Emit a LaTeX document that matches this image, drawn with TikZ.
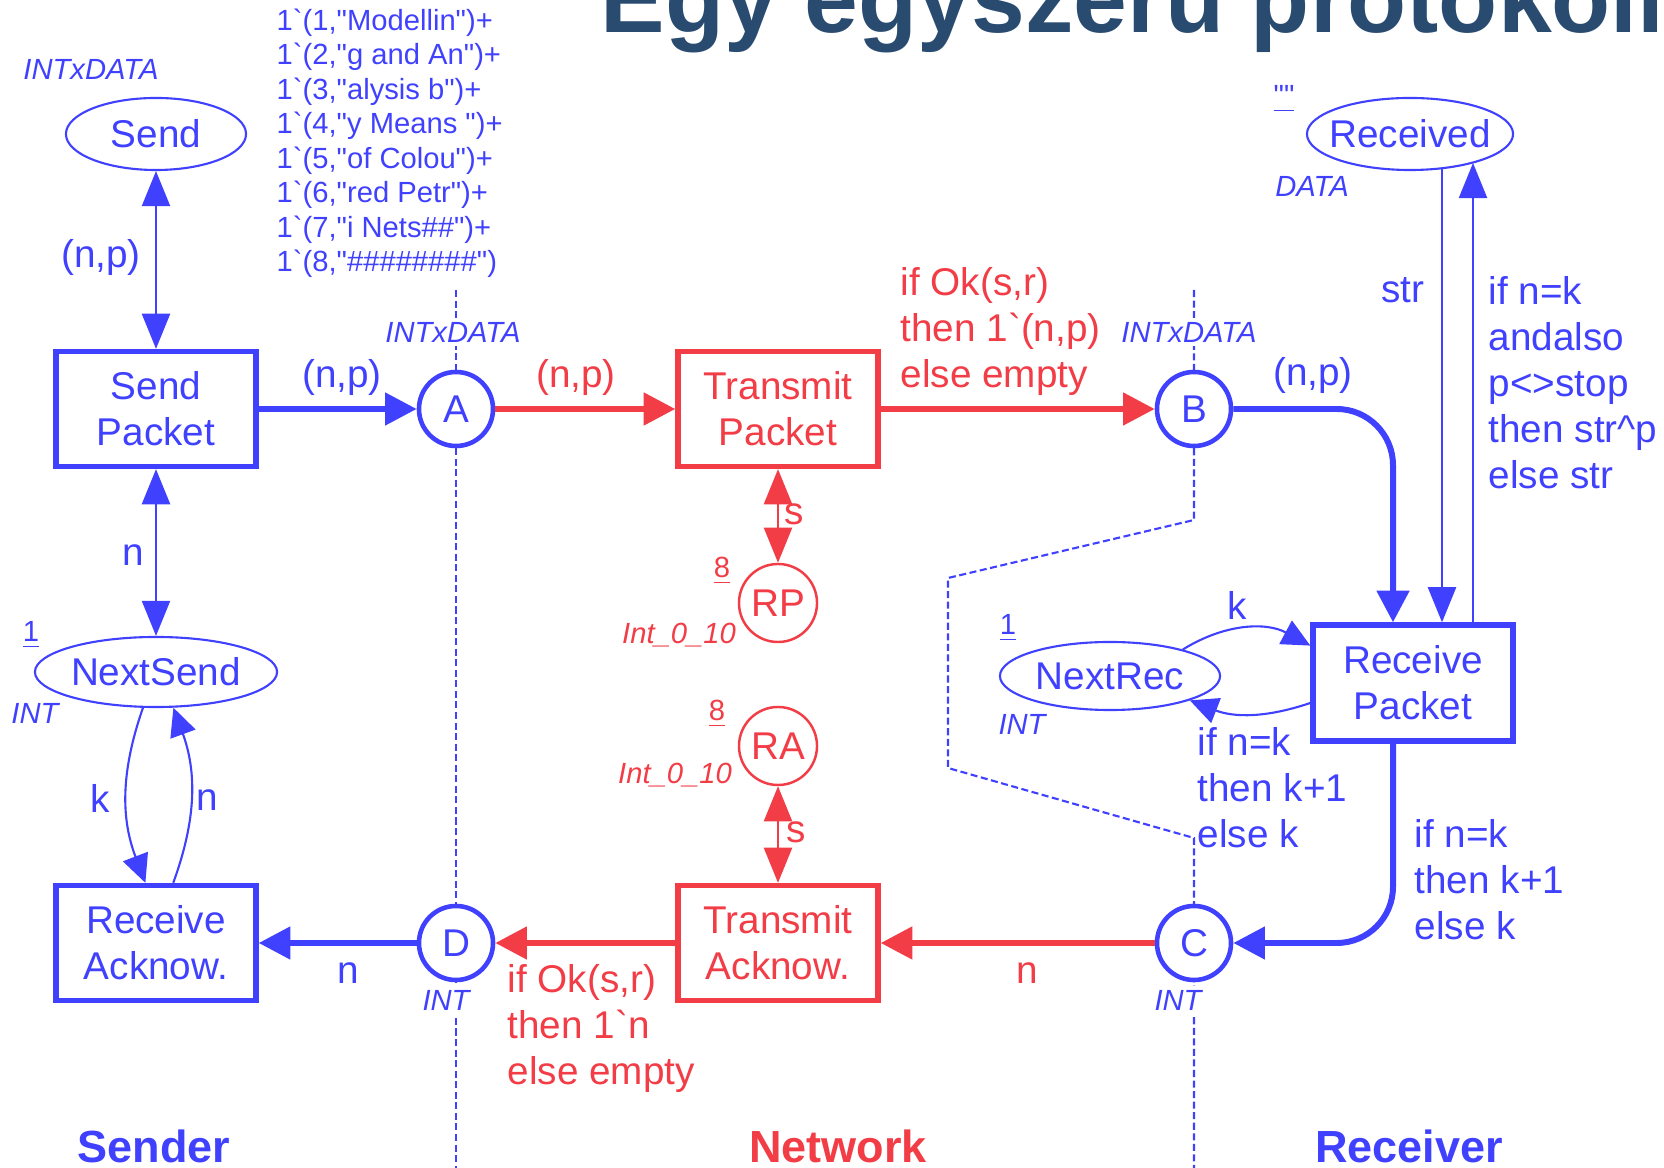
\documentclass[tikz,border=0pt]{standalone}
\usepackage{fontspec}
\setmainfont{Liberation Sans}
\usetikzlibrary{positioning,arrows.meta,shapes.geometric}
\definecolor{cpnblue}{RGB}{64,64,255}
\definecolor{cpnred}{RGB}{242,60,70}
\definecolor{headblue}{RGB}{42,75,112}
\newcommand{\bqt}{\textasciigrave}
\newcommand{\dqt}{\textquotedbl}
\tikzset{
  cpnb/.style={draw=cpnblue,text=cpnblue},
  cpnr/.style={draw=cpnred,text=cpnred},
  place/.style={circle,draw,fill=white,line width=1.3pt,minimum size=0.74cm,inner sep=0pt},
  smallplace/.style={circle,draw,fill=white,line width=0.7pt,minimum size=0.78cm,inner sep=0pt},
  oval/.style={ellipse,draw,fill=white,line width=0.6pt,inner sep=0pt},
  trans/.style={draw,fill=white,line width=1.5pt,minimum width=2cm,minimum height=1.15cm,align=center,inner sep=0pt},
  arc/.style={line width=1.7pt,-{Triangle[length=9pt,width=9pt]}},
  thinarc/.style={line width=0.6pt},
  bendtip/.style={-{Triangle[length=8pt,width=7.5pt]}},
  colset/.style={font=\fontsize{8.3}{10}\selectfont\itshape,inner sep=1pt},
  marking/.style={font=\fontsize{8.3}{9.8}\selectfont,inner sep=0pt},
  inscr/.style={align=left,anchor=base west,inner sep=0pt},
  border/.style={draw=cpnblue,line width=0.6pt,dash pattern=on 2pt off 1pt},
  section/.style={font=\fontsize{12.8}{15}\selectfont\bfseries}
}
\begin{document}
\begin{tikzpicture}[x=0.01cm,y=-0.01cm,font=\fontsize{11}{13.1}\selectfont,
  >={Triangle[length=10pt,width=8pt]}]
  \useasboundingbox (0,0) rectangle (1664,1168);
  \clip (0,0) rectangle (1664,1168);
  \node[anchor=base west,inner sep=0pt,text=headblue,font=\fontsize{27.5}{32}\selectfont\bfseries] (title) at (600,33) {Egy egyszerű protokoll};
  % module borders
  \path[border] (456,290) -- (456,1168);
  \path[border] (1194,290) -- (1194,520) -- (948,578) -- (948,768) -- (1194,838) -- (1194,1168);
  % sender
  \node[oval,cpnb,minimum width=1.8cm,minimum height=0.72cm] (send) at (156,134) {Send};
  \node[colset,text=cpnblue] (tsend) at (91,69) {INTxDATA};
  \node[marking,text=cpnblue,inscr] (isend) at (276,271.7) {1\bqt(1,\dqt Modellin\dqt)+\\1\bqt(2,\dqt g and An\dqt)+\\1\bqt(3,\dqt alysis b\dqt)+\\1\bqt(4,\dqt y Means \dqt)+\\1\bqt(5,\dqt of Colou\dqt)+\\1\bqt(6,\dqt red Petr\dqt)+\\1\bqt(7,\dqt i Nets\#\#\dqt)+\\1\bqt(8,\dqt\#\#\#\#\#\#\#\#\dqt)};
  \node[trans,cpnb] (sendpkt) at (156,409) {Send\\Packet};
  \node[oval,cpnb,minimum width=2.42cm,minimum height=0.7cm] (nextsend) at (156,672) {NextSend};
  \node[marking,text=cpnblue] (inextsend) at (31,635) {\underline{1}};
  \node[colset,text=cpnblue] (tnextsend) at (35,713) {INT};
  \node[trans,cpnb] (recack) at (156,943) {Receive\\Acknow.};
  \node[place,cpnb] (A) at (456,409) {A};
  \node[colset,text=cpnblue,fill=white] (tA) at (453,332) {INTxDATA};
  \node[place,cpnb] (D) at (456,943) {D};
  \node[colset,text=cpnblue,fill=white] (tD) at (446,1000) {INT};
  % network
  \node[trans,cpnr] (transpkt) at (778,409) {Transmit\\Packet};
  \node[trans,cpnr] (transack) at (778,943) {Transmit\\Acknow.};
  \node[smallplace,cpnr] (rp) at (778,603) {RP};
  \node[marking,text=cpnred] (irp) at (722,571) {\underline{8}};
  \node[colset,text=cpnred] (trp) at (679,635) {Int\_0\_10};
  \node[smallplace,cpnr] (ra) at (778,746) {RA};
  \node[marking,text=cpnred] (ira) at (717,714) {\underline{8}};
  \node[colset,text=cpnred] (tra) at (675,775) {Int\_0\_10};
  % receiver
  \node[place,cpnb] (B) at (1194,409) {B};
  \node[colset,text=cpnblue,fill=white] (tB) at (1189,332) {INTxDATA};
  \node[place,cpnb] (C) at (1194,943) {C};
  \node[colset,text=cpnblue,fill=white] (tC) at (1178,1000) {INT};
  \node[trans,cpnb,minimum height=1.16cm] (recpkt) at (1413,683) {Receive\\Packet};
  \node[oval,cpnb,minimum width=2.2cm,minimum height=0.68cm] (nextrec) at (1110,676) {NextRec};
  \node[marking,text=cpnblue] (inextrec) at (1008,628) {\underline{1}};
  \node[colset,text=cpnblue] (tnextrec) at (1022,724) {INT};
  \node[oval,cpnb,inner xsep=-0.08cm,minimum width=2.06cm,minimum height=0.72cm] (received) at (1410,134) {Received};
  \node[marking,text=cpnblue] (ireceived) at (1284,99) {\underline{\dqt\dqt}};
  \node[colset,text=cpnblue] (treceived) at (1312,186) {DATA};
  % arcs
  \draw[thinarc,cpnb,<->] (sendpkt) -- (send);
  \draw[thinarc,cpnb,<->] (sendpkt) -- (nextsend);
  \draw[thinarc,cpnb,bendtip] (nextsend.250) to[bend right=20] (recack.100);
  \draw[thinarc,cpnb,bendtip] (recack.74) to[bend right=20] (nextsend.296);
  \draw[arc,cpnb] (sendpkt) -- (A);
  \draw[arc,cpnr] (A) -- (transpkt);
  \draw[arc,cpnr] (transpkt) -- (B);
  \draw[thinarc,cpnr,<->] (transpkt) -- (rp);
  \draw[thinarc,cpnr,<->] (transack) -- (ra);
  \draw[arc,cpnr] (transack) -- (D);
  \draw[arc,cpnr] (C) -- (transack);
  \draw[arc,cpnb] (D) -- (recack);
  \coordinate (bturn) at (1393,409);
  \draw[arc,cpnb,rounded corners=16pt] (B) -- (bturn) -- (bturn |- recpkt.north);
  \draw[arc,cpnb,rounded corners=16pt] (recpkt.south -| bturn) -- (bturn |- C) -- (C);
  \coordinate (strtop) at (1442,168);
  \coordinate (rettop) at (1473,163);
  \draw[thinarc,cpnb,->] (strtop) -- (strtop |- recpkt.north);
  \draw[thinarc,cpnb,->] (rettop |- recpkt.north) -- (rettop);
  \draw[thinarc,cpnb,bendtip] (nextrec.20) to[bend left=30] (recpkt.160);
  \draw[thinarc,cpnb,bendtip] (recpkt.191) to[bend left=20] (nextrec.343);
  % arc inscriptions
  \node[text=cpnblue] (lsend) at (101,258) {(n,p)};
  \node[text=cpnblue] (lnext) at (133,555) {n};
  \node[text=cpnblue] (lk) at (100,798) {k};
  \node[text=cpnblue] (ln) at (207,800) {n};
  \node[text=cpnblue] (lsa) at (342,378) {(n,p)};
  \node[text=cpnblue] (ldr) at (348,973) {n};
  \node[text=cpnred] (lat) at (576,378) {(n,p)};
  \node[text=cpnred] (lrp) at (794,514) {s};
  \node[text=cpnred] (lra) at (796,832) {s};
  \node[text=cpnred] (lct) at (1027,973) {n};
  \node[text=cpnblue] (lbr) at (1313,376) {(n,p)};
  \node[text=cpnblue] (lstr) at (1403,290) {str};
  \node[text=cpnblue] (lnk) at (1237,605) {k};
  \node[inscr,text=cpnred] (ltb) at (900,387.2) {if Ok(s,r)\\then 1\bqt(n,p)\\else empty};
  \node[inscr,text=cpnred] (ltd) at (507,1084.2) {if Ok(s,r)\\then 1\bqt n\\else empty};
  \node[inscr,text=cpnblue] (lrn) at (1197,847.2) {if n=k\\then k+1\\else k};
  \node[inscr,text=cpnblue] (lrc) at (1414,939.2) {if n=k\\then k+1\\else k};
  \node[inscr,text=cpnblue] (lrr) at (1488,488.4) {if n=k\\andalso\\p<>stop\\then str\textasciicircum p\\else str};
  % modules
  \node[section,text=cpnblue] (sender) at (154,1146) {Sender};
  \node[section,text=cpnred] (network) at (838,1146) {Network};
  \node[section,text=cpnblue] (receiver) at (1409,1146) {Receiver};
\end{tikzpicture}
\end{document}
